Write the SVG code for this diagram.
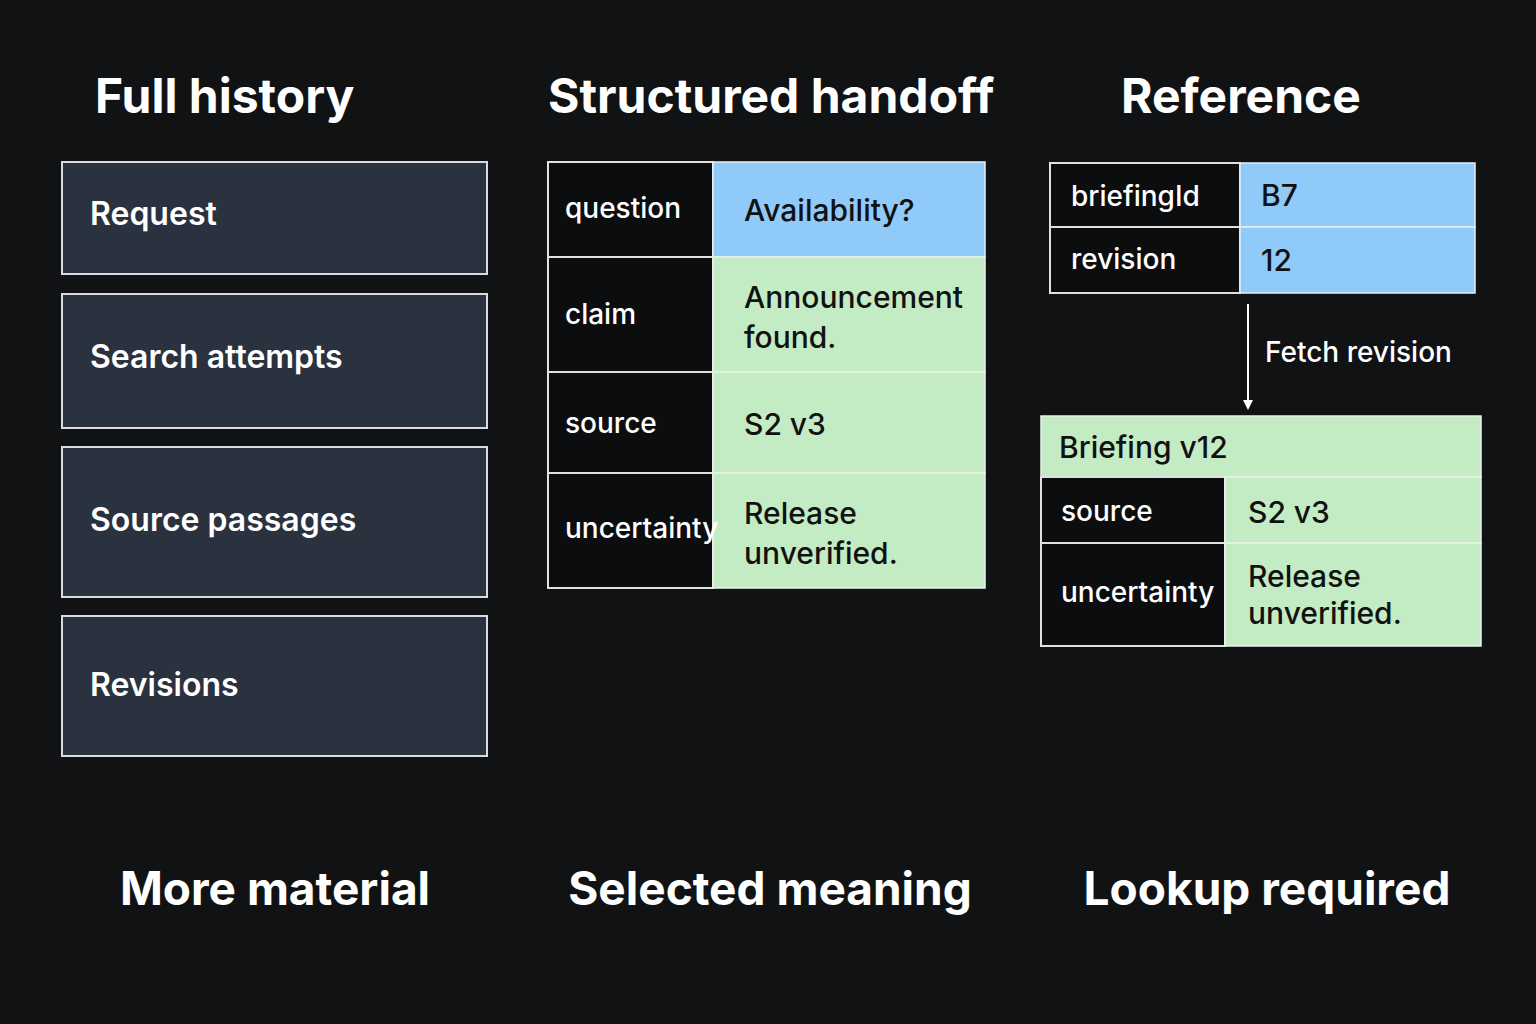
<svg xmlns="http://www.w3.org/2000/svg" width="1536" height="1024" viewBox="0 0 1536 1024">
<style>
text{font-family:"Inter","Liberation Sans",sans-serif;}
.t{fill:#fff;font-size:48px;font-weight:700;}
.b{fill:#fff;font-size:46px;font-weight:700;text-anchor:middle;}
.hb{fill:#2a3240;stroke:#d8dce2;stroke-width:2;}
.ht{fill:#fff;font-size:32px;font-weight:600;}
.k{fill:#0c0d0f;stroke:#e0e0e0;stroke-width:2;}
.kt{fill:#fff;font-size:28px;font-weight:500;}
.bl{fill:#90caf9;stroke:#e8eef4;stroke-width:1.5;}
.gr{fill:#c3ebc4;stroke:#e8f4e8;stroke-width:1.5;}
.vt{fill:#111;font-size:30px;font-weight:500;}
</style>
<defs><marker id="ah" markerWidth="10" markerHeight="10" refX="8" refY="5" orient="auto" markerUnits="userSpaceOnUse"><path d="M0,0 L10,5 L0,10 z" fill="#fff"/></marker></defs>
<rect width="1536" height="1024" fill="#111214"/>
<text class="t" x="95" y="113">Full history</text>
<text class="t" x="548" y="113">Structured handoff</text>
<text class="t" x="1121" y="113">Reference</text>
<g id="history">
<g id="h1"><rect class="hb" x="62" y="162" width="425" height="112"/><text class="ht" x="90" y="225">Request</text></g>
<g id="h2"><rect class="hb" x="62" y="294" width="425" height="134"/><text class="ht" x="90" y="368">Search attempts</text></g>
<g id="h3"><rect class="hb" x="62" y="447" width="425" height="150"/><text class="ht" x="90" y="531">Source passages</text></g>
<g id="h4"><rect class="hb" x="62" y="616" width="425" height="140"/><text class="ht" x="90" y="696">Revisions</text></g>
</g>
<g id="handoff">
<rect class="k" x="548" y="162" width="165" height="95"/><rect class="bl" x="713" y="162" width="272" height="95"/>
<text class="kt" x="565" y="218">question</text><text class="vt" x="744" y="221">Availability?</text>
<rect class="k" x="548" y="257" width="165" height="115"/><rect class="gr" x="713" y="257" width="272" height="115"/>
<text class="kt" x="565" y="324">claim</text><text class="vt" x="744" y="308">Announcement</text><text class="vt" x="744" y="348">found.</text>
<rect class="k" x="548" y="372" width="165" height="101"/><rect class="gr" x="713" y="372" width="272" height="101"/>
<text class="kt" x="565" y="433">source</text><text class="vt" x="744" y="435">S2 v3</text>
<rect class="k" x="548" y="473" width="165" height="115"/><rect class="gr" x="713" y="473" width="272" height="115"/>
<text class="kt" x="565" y="538">uncertainty</text><text class="vt" x="744" y="524">Release</text><text class="vt" x="744" y="564">unverified.</text>
</g>
<g id="reference">
<rect class="k" x="1050" y="163" width="190" height="64"/><rect class="bl" x="1240" y="163" width="235" height="64"/>
<text class="kt" x="1071" y="206">briefingId</text><text class="vt" x="1261" y="206">B7</text>
<rect class="k" x="1050" y="227" width="190" height="66"/><rect class="bl" x="1240" y="227" width="235" height="66"/>
<text class="kt" x="1071" y="269">revision</text><text class="vt" x="1261" y="271">12</text>
</g>
<g id="connectors">
<line x1="1248" y1="304" x2="1248" y2="408" stroke="#fff" stroke-width="2" marker-end="url(#ah)"/>
<text class="kt" x="1265" y="362" font-size="27">Fetch revision</text>
</g>
<g id="briefing">
<rect class="gr" x="1041" y="416" width="440" height="61"/>
<text class="vt" x="1059" y="458" font-weight="700">Briefing v12</text>
<rect class="k" x="1041" y="477" width="184" height="66"/><rect class="gr" x="1225" y="477" width="256" height="66"/>
<text class="kt" x="1061" y="521">source</text><text class="vt" x="1248" y="523">S2 v3</text>
<rect class="k" x="1041" y="543" width="184" height="103"/><rect class="gr" x="1225" y="543" width="256" height="103"/>
<text class="kt" x="1061" y="602">uncertainty</text><text class="vt" x="1248" y="587">Release</text><text class="vt" x="1248" y="624">unverified.</text>
</g>
<text class="b" x="275" y="905">More material</text>
<text class="b" x="770" y="905">Selected meaning</text>
<text class="b" x="1267" y="905">Lookup required</text>
</svg>
